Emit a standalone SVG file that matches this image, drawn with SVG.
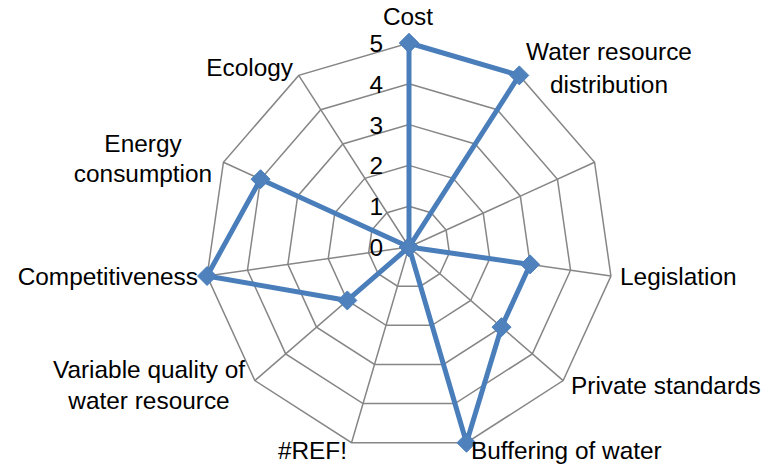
<svg xmlns="http://www.w3.org/2000/svg" xmlns:xlink="http://www.w3.org/1999/xlink" width="769" height="469" viewBox="0 0 769 469">
<style>
.grid{fill:none;stroke:#868686;stroke-width:1.5}
.ring{fill:none;stroke:#868686;stroke-width:1.5;vector-effect:non-scaling-stroke}
.lbl{font-family:"Liberation Sans",Arial,sans-serif;font-size:24.4px;fill:#000}
.tick{font-family:"Liberation Sans",Arial,sans-serif;font-size:24.4px;fill:#000;text-anchor:end}
.data{fill:none;stroke:#4A7EBB;stroke-width:5;stroke-linejoin:round}
</style>
<defs>
<polygon id="ring" class="ring" points="0,-1 0.54064,-0.84125 0.90963,-0.41542 0.98982,0.14231 0.75575,0.65486 0.28173,0.95949 -0.28173,0.95949 -0.75575,0.65486 -0.98982,0.14231 -0.90963,-0.41542 -0.54064,-0.84125"/>
<marker id="dia" markerUnits="userSpaceOnUse" markerWidth="22" markerHeight="22" viewBox="-11 -11 22 22" refX="0" refY="0" orient="0" overflow="visible">
<polygon points="0,-9.5 9.5,0 0,9.5 -9.5,0" fill="#4F81BD" stroke="#4A7EBB" stroke-width="1"/>
</marker>
</defs>
<rect width="769" height="469" fill="#fff"/>
<g id="grid">
<use xlink:href="#ring" transform="translate(409 247) scale(40.8)"/>
<use xlink:href="#ring" transform="translate(409 247) scale(81.6)"/>
<use xlink:href="#ring" transform="translate(409 247) scale(122.4)"/>
<use xlink:href="#ring" transform="translate(409 247) scale(163.2)"/>
<use xlink:href="#ring" transform="translate(409 247) scale(204)"/>
<path class="grid" d="M409,247L409,43M409,247L519.29,75.38M409,247L594.56,162.25M409,247L610.92,276.03M409,247L563.17,380.59M409,247L466.47,442.74M409,247L351.53,442.74M409,247L254.83,380.59M409,247L207.08,276.03M409,247L223.44,162.25M409,247L298.71,75.38"/>
</g>
<g id="ticks">
<text class="tick" x="383" y="52">5</text>
<text class="tick" x="383" y="92.5">4</text>
<text class="tick" x="383" y="133.5">3</text>
<text class="tick" x="383" y="174">2</text>
<text class="tick" x="383" y="215">1</text>
<text class="tick" x="383" y="256">0</text>
</g>
<g id="connectors">
<polygon id="series" class="data" points="409,43 519.29,75.38 409,247 530.15,264.42 501.50,327.15 466.47,442.74 409,247 347.33,300.44 207.08,276.03 260.55,179.20 409,247" marker-start="url(#dia)" marker-mid="url(#dia)" marker-end="url(#dia)"/>
</g>
<g id="node-cost"><text class="lbl" x="408" y="25" text-anchor="middle">Cost</text></g>
<g id="node-water-distribution"><text class="lbl" x="609" y="59.5" text-anchor="middle">Water resource</text><text class="lbl" x="609" y="92.5" text-anchor="middle">distribution</text></g>
<g id="node-legislation"><text class="lbl" x="620" y="285">Legislation</text></g>
<g id="node-private-standards"><text class="lbl" x="571" y="394">Private standards</text></g>
<g id="node-buffering"><text class="lbl" x="471" y="459">Buffering of water</text></g>
<g id="node-ref"><text class="lbl" x="347" y="459" text-anchor="end">#REF!</text></g>
<g id="node-variable-quality"><text class="lbl" x="149" y="378" text-anchor="middle">Variable quality of</text><text class="lbl" x="149" y="409" text-anchor="middle">water resource</text></g>
<g id="node-competitiveness"><text class="lbl" x="198" y="285" text-anchor="end">Competitiveness</text></g>
<g id="node-energy"><text class="lbl" x="143" y="151.5" text-anchor="middle">Energy</text><text class="lbl" x="143" y="181.5" text-anchor="middle">consumption</text></g>
<g id="node-ecology"><text class="lbl" x="293" y="76" text-anchor="end">Ecology</text></g>
</svg>
